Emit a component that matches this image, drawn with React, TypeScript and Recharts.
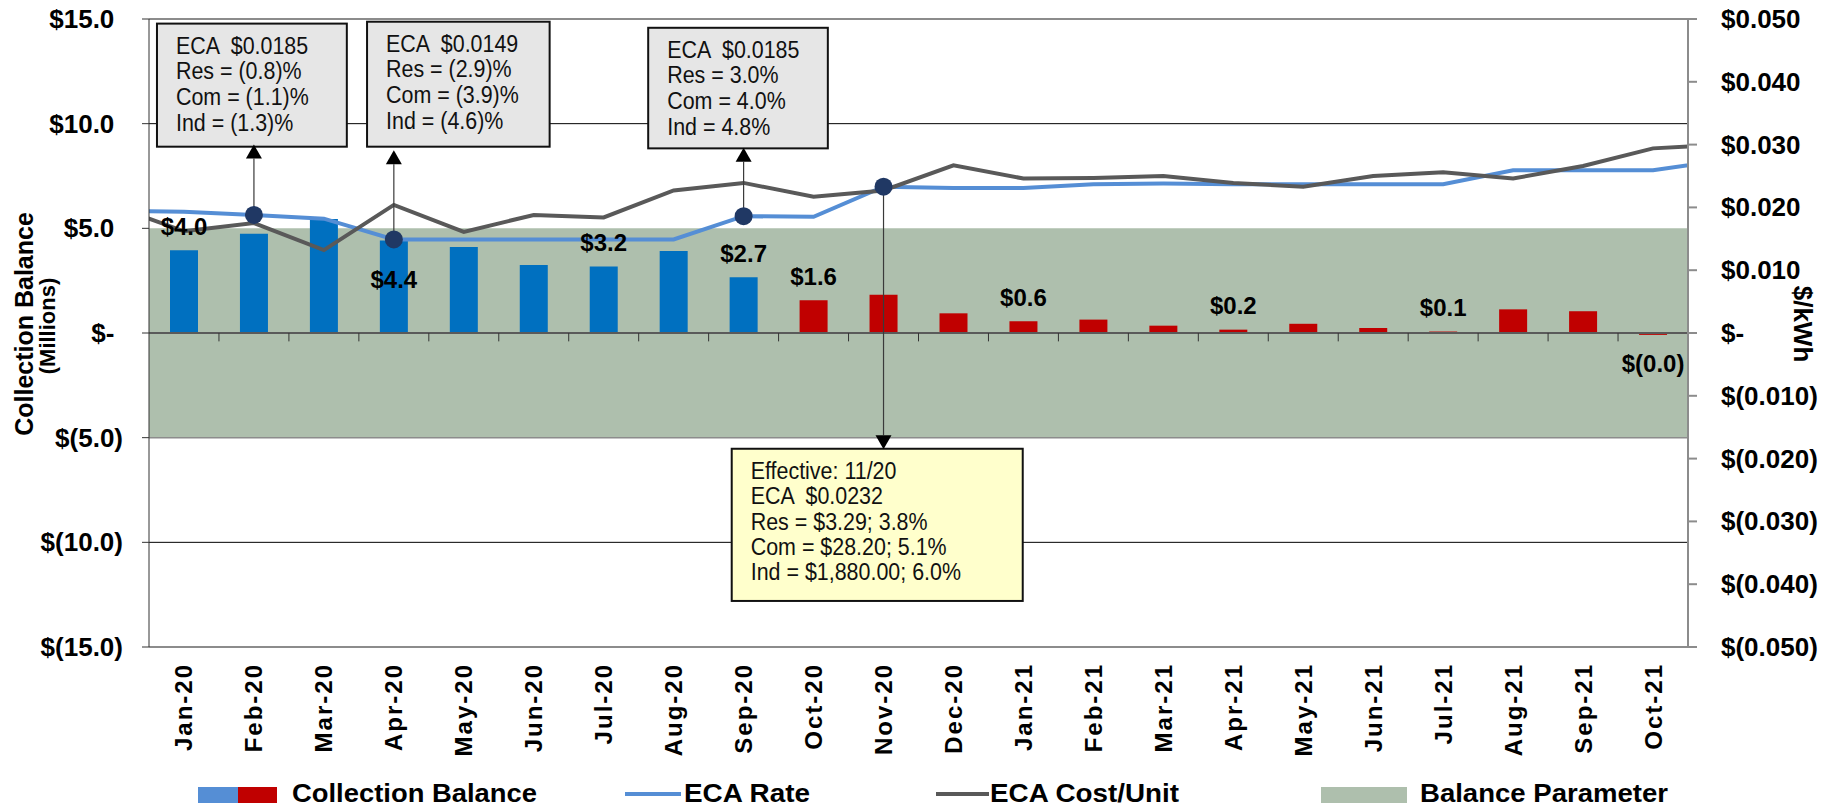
import React from 'react';
import {
  ComposedChart,
  Bar,
  Line,
  Area,
  XAxis,
  YAxis,
  CartesianGrid,
  ReferenceLine,
  ReferenceArea,
  ReferenceDot,
  LabelList,
  Cell,
} from 'recharts';

const months = [
  'Jan-20', 'Feb-20', 'Mar-20', 'Apr-20', 'May-20', 'Jun-20', 'Jul-20', 'Aug-20', 'Sep-20', 'Oct-20', 'Nov-20',
  'Dec-20', 'Jan-21', 'Feb-21', 'Mar-21', 'Apr-21', 'May-21', 'Jun-21', 'Jul-21', 'Aug-21', 'Sep-21', 'Oct-21',
];

// collection balance, $ millions
const collectionBalance = [
  3.95, 4.74, 5.45, 4.42, 4.11, 3.25, 3.18, 3.92, 2.66, 1.56, 1.83,
  0.94, 0.56, 0.64, 0.35, 0.16, 0.44, 0.24, 0.07, 1.13, 1.04, -0.09,
];
const balanceLabels = [
  '$4.0', '', '', '$4.4', '', '', '$3.2', '', '$2.7', '$1.6', '',
  '', '$0.6', '', '', '$0.2', '', '', '$0.1', '', '', '$(0.0)',
];
const firstUnderCollected = 'Oct-20';
const labelInsideBar = 'Apr-20';

// the two lines run one month past each end, the plot area clips them
const lineMonths = ['Dec-19', ...months, 'Nov-21'];
const ecaRate = [
  0.0195, 0.0193, 0.0188, 0.0182, 0.0149, 0.0149, 0.0149, 0.0149, 0.0149, 0.0186, 0.0185, 0.0233,
  0.0231, 0.0231, 0.0237, 0.0238, 0.0237, 0.0237, 0.0237, 0.0237, 0.0259, 0.0259, 0.0259, 0.0275,
];
const ecaCost = [
  0.0202, 0.0162, 0.0175, 0.0132, 0.0204, 0.0161, 0.0188, 0.0184, 0.0227, 0.0239, 0.0217, 0.0227,
  0.0267, 0.0246, 0.0247, 0.025, 0.0239, 0.0233, 0.025, 0.0256, 0.0246, 0.0266, 0.0294, 0.03,
];
const balanceParameter = [-5, 5];

const leftTicks = [-15, -10, -5, 0, 5, 10, 15];
const rightTicks = [-0.05, -0.04, -0.03, -0.02, -0.01, 0, 0.01, 0.02, 0.03, 0.04, 0.05];

const callouts = [
  {
    month: 'Feb-20',
    lines: ['ECA  $0.0185', 'Res = (0.8)%', 'Com = (1.1)%', 'Ind = (1.3)%'],
    box: [-0.386, 2.328, 8.9, 14.78],
    tip: 0.03,
    fill: '#E6E6E6',
  },
  {
    month: 'Apr-20',
    lines: ['ECA  $0.0149', 'Res = (2.9)%', 'Com = (3.9)%', 'Ind = (4.6)%'],
    box: [2.617, 5.227, 8.9, 14.87],
    tip: 0.0291,
    fill: '#E6E6E6',
  },
  {
    month: 'Sep-20',
    lines: ['ECA  $0.0185', 'Res = 3.0%', 'Com = 4.0%', 'Ind = 4.8%'],
    box: [6.636, 9.204, 8.82, 14.58],
    tip: 0.0295,
    fill: '#E6E6E6',
  },
  {
    month: 'Nov-20',
    lines: ['Effective: 11/20', 'ECA  $0.0232', 'Res = $3.29; 3.8%', 'Com = $28.20; 5.1%', 'Ind = $1,880.00; 6.0%'],
    box: [7.83, 11.99, -12.8, -5.53],
    tip: -0.0185,
    fill: '#FFFFCC',
  },
];

const FONT = "'Liberation Sans', Arial, sans-serif";
const BLUE_BAR = '#0070C0';
const RED_BAR = '#C00000';
const RATE_BLUE = '#558ED5';
const COST_GREY = '#595959';
const BAND_GREEN = '#AEBFAD';

const barData = months.map((m, i) => ({ month: m, balance: collectionBalance[i], label: balanceLabels[i] }));
const lineData = lineMonths.map((m, i) => ({
  x: i - 1,
  month: m,
  rate: ecaRate[i],
  cost: ecaCost[i],
  band: balanceParameter,
}));
const redFrom = months.indexOf(firstUnderCollected);

const fmtLeft = (v: number) => (v === 0 ? '$-' : v < 0 ? `$(${Math.abs(v).toFixed(1)})` : `$${v.toFixed(1)}`);
const fmtRight = (v: number) => (v === 0 ? '$-' : v < 0 ? `$(${Math.abs(v).toFixed(3)})` : `$${v.toFixed(3)}`);

const LeftTick = ({ x, y, payload }: any) => {
  const label = fmtLeft(payload.value);
  return (
    <text x={x} y={y} textAnchor="end" dominantBaseline="central" fontFamily={FONT} fontWeight="bold" fontSize={26} fill="#000">
      {label}
      {label.endsWith(')') ? null : <tspan fillOpacity={0}>)</tspan>}
    </text>
  );
};

const RightTick = ({ x, y, payload }: any) => (
  <text x={x} y={y} textAnchor="start" dominantBaseline="central" fontFamily={FONT} fontWeight="bold" fontSize={26} fill="#000">
    {fmtRight(payload.value)}
  </text>
);

const MonthTick = ({ x, y, payload }: any) => (
  <text
    x={x}
    y={y}
    transform={`rotate(-90 ${x} ${y})`}
    textAnchor="end"
    dominantBaseline="central"
    fontFamily={FONT}
    fontWeight="bold"
    fontSize={24}
    letterSpacing={2}
    fill="#000"
  >
    {payload.value}
  </text>
);

const renderBalanceLabel = (p: any) => {
  const vb = p.viewBox ?? p;
  const { x, y, width, height } = vb;
  const value = p.value;
  if (!value) return null;
  const idx = p.index ?? balanceLabels.indexOf(value);
  const top = Math.min(y, y + height);
  const bottom = Math.max(y, y + height);
  let cy = top - 24;
  if (collectionBalance[idx] < 0) cy = bottom + 29;
  else if (months[idx] === labelInsideBar) cy = top + 39;
  return (
    <text x={x + width / 2} y={cy} textAnchor="middle" dominantBaseline="central" fontFamily={FONT} fontWeight="bold" fontSize={24} fill="#000">
      {value}
    </text>
  );
};

const Arrow = (p: any) => {
  const { x1, y1, x2, y2 } = p;
  const dir = y2 < y1 ? 1 : -1;
  const base = y2 + dir * 14;
  return (
    <g>
      <line x1={x1} y1={y1} x2={x2} y2={base} stroke="#3a3a3a" strokeWidth={1.2} />
      <polygon points={`${x2},${y2} ${x2 - 8},${base} ${x2 + 8},${base}`} fill="#000" />
    </g>
  );
};

// the callout text in the original is a little taller than it is wide
const makeBox = (lines: string[], fill: string) => (p: any) => {
  const { x, y, width, height } = p;
  const step = lines.length > 4 ? 25.4 : 25.7;
  return (
    <g>
      <rect x={x} y={y} width={width} height={height} fill={fill} stroke="#111" strokeWidth={2} />
      <g transform={`translate(${x + 19} ${y + 30}) scale(0.92 1)`}>
        <text x={0} y={0} fontFamily={FONT} fontSize={23.3} fill="#111" style={{ whiteSpace: 'pre' }}>
          {lines.map((l, i) => (
            <tspan key={i} x={0} dy={i === 0 ? 0 : step}>
              {l}
            </tspan>
          ))}
        </text>
      </g>
    </g>
  );
};

export default function App() {
  const boundaries = months.slice(1).map((_, i) => i + 0.5);

  return (
    <div style={{ position: 'absolute', left: 0, top: 0, width: 1827, height: 809, background: '#fff' }}>
      <ComposedChart width={1827} height={809} data={barData} margin={{ top: 19, right: 0, bottom: 0, left: 0 }}>
        <XAxis
          xAxisId="cat"
          dataKey="month"
          type="category"
          interval={0}
          height={162}
          axisLine={false}
          tickLine={false}
          tickSize={0}
          tickMargin={16}
          tick={<MonthTick />}
        />
        <XAxis xAxisId="num" dataKey="x" type="number" domain={[-0.5, 21.5]} allowDataOverflow hide />
        <YAxis
          yAxisId="left"
          width={149}
          domain={[-15, 15]}
          ticks={leftTicks}
          interval={0}
          axisLine={{ stroke: '#333', strokeWidth: 1 }}
          tickLine={{ stroke: '#333', strokeWidth: 1 }}
          tickSize={7}
          tickMargin={19}
          tick={<LeftTick />}
        />
        <YAxis
          yAxisId="right"
          orientation="right"
          width={139}
          domain={[-0.05, 0.05]}
          ticks={rightTicks}
          interval={0}
          axisLine={{ stroke: '#8c8c8c', strokeWidth: 2 }}
          tickLine={{ stroke: '#8c8c8c', strokeWidth: 2 }}
          tickSize={9}
          tickMargin={24}
          tick={<RightTick />}
        />
        <CartesianGrid xAxisId="num" yAxisId="left" vertical={false} horizontalValues={[-10, 10]} stroke="#000" strokeWidth={1} />

        <Area
          xAxisId="num"
          yAxisId="left"
          data={lineData}
          dataKey="band"
          type="linear"
          stroke="none"
          fill={BAND_GREEN}
          fillOpacity={1}
          isAnimationActive={false}
        />
        <ReferenceLine xAxisId="num" yAxisId="left" y={-5} stroke="#8c8c8c" strokeWidth={1.5} />
        <ReferenceLine xAxisId="num" yAxisId="left" y={15} stroke="#8c8c8c" strokeWidth={2} />
        <ReferenceLine xAxisId="num" yAxisId="left" y={-15} stroke="#8c8c8c" strokeWidth={2} />

        <Bar xAxisId="cat" yAxisId="left" dataKey="balance" barSize={28} isAnimationActive={false}>
          {barData.map((d, i) => (
            <Cell key={d.month} fill={i < redFrom ? BLUE_BAR : RED_BAR} />
          ))}
          <LabelList dataKey="label" content={renderBalanceLabel} />
        </Bar>

        <ReferenceLine xAxisId="num" yAxisId="left" y={0} stroke="#5a5a5a" strokeWidth={2} />
        {boundaries.map((b) => (
          <ReferenceLine
            key={b}
            xAxisId="num"
            yAxisId="left"
            segment={[{ x: b, y: 0 }, { x: b, y: -0.4 }]}
            stroke="#333"
            strokeWidth={1}
          />
        ))}

        <Line
          xAxisId="num"
          yAxisId="right"
          data={lineData}
          dataKey="rate"
          type="linear"
          stroke={RATE_BLUE}
          strokeWidth={4}
          dot={false}
          isAnimationActive={false}
        />
        <Line
          xAxisId="num"
          yAxisId="right"
          data={lineData}
          dataKey="cost"
          type="linear"
          stroke={COST_GREY}
          strokeWidth={4}
          dot={false}
          isAnimationActive={false}
        />

        {callouts.map((c) => {
          const i = months.indexOf(c.month);
          return (
            <ReferenceLine
              key={`a-${c.month}`}
              xAxisId="num"
              yAxisId="right"
              segment={[{ x: i, y: ecaRate[i + 1] }, { x: i, y: c.tip }]}
              shape={<Arrow />}
            />
          );
        })}
        {callouts.map((c) => (
          <ReferenceArea
            key={`b-${c.month}`}
            xAxisId="num"
            yAxisId="left"
            x1={c.box[0]}
            x2={c.box[1]}
            y1={c.box[2]}
            y2={c.box[3]}
            fill={c.fill}
            fillOpacity={1}
            shape={makeBox(c.lines, c.fill)}
          />
        ))}
        {callouts.map((c) => {
          const i = months.indexOf(c.month);
          return (
            <ReferenceDot
              key={`d-${c.month}`}
              xAxisId="num"
              yAxisId="right"
              x={i}
              y={ecaRate[i + 1]}
              r={9}
              fill="#203864"
              stroke="none"
            />
          );
        })}
      </ComposedChart>

      <svg width={1827} height={809} style={{ position: 'absolute', left: 0, top: 0, pointerEvents: 'none' }}>
        <g fontFamily={FONT} fontWeight="bold" fill="#000">
          <text transform="translate(33,324) rotate(-90)" textAnchor="middle" fontSize={25}>
            Collection Balance
          </text>
          <text transform="translate(55,326) rotate(-90)" textAnchor="middle" fontSize={22}>
            (Millions)
          </text>
          <text transform="translate(1794,324) rotate(90)" textAnchor="middle" fontSize={26}>
            $/kWh
          </text>

          <rect x={198} y={787} width={40} height={16} fill={RATE_BLUE} />
          <rect x={238} y={787} width={39} height={16} fill={RED_BAR} />
          <text x={292} y={802} fontSize={26} textLength={245} lengthAdjust="spacingAndGlyphs">
            Collection Balance
          </text>
          <line x1={625} y1={794} x2={681} y2={794} stroke={RATE_BLUE} strokeWidth={4} />
          <text x={684} y={802} fontSize={26} textLength={126} lengthAdjust="spacingAndGlyphs">
            ECA Rate
          </text>
          <line x1={936} y1={794} x2={989} y2={794} stroke={COST_GREY} strokeWidth={4} />
          <text x={990} y={802} fontSize={26} textLength={189} lengthAdjust="spacingAndGlyphs">
            ECA Cost/Unit
          </text>
          <rect x={1321} y={787} width={86} height={16} fill={BAND_GREEN} />
          <text x={1420} y={802} fontSize={26} textLength={248} lengthAdjust="spacingAndGlyphs">
            Balance Parameter
          </text>
        </g>
      </svg>
    </div>
  );
}
